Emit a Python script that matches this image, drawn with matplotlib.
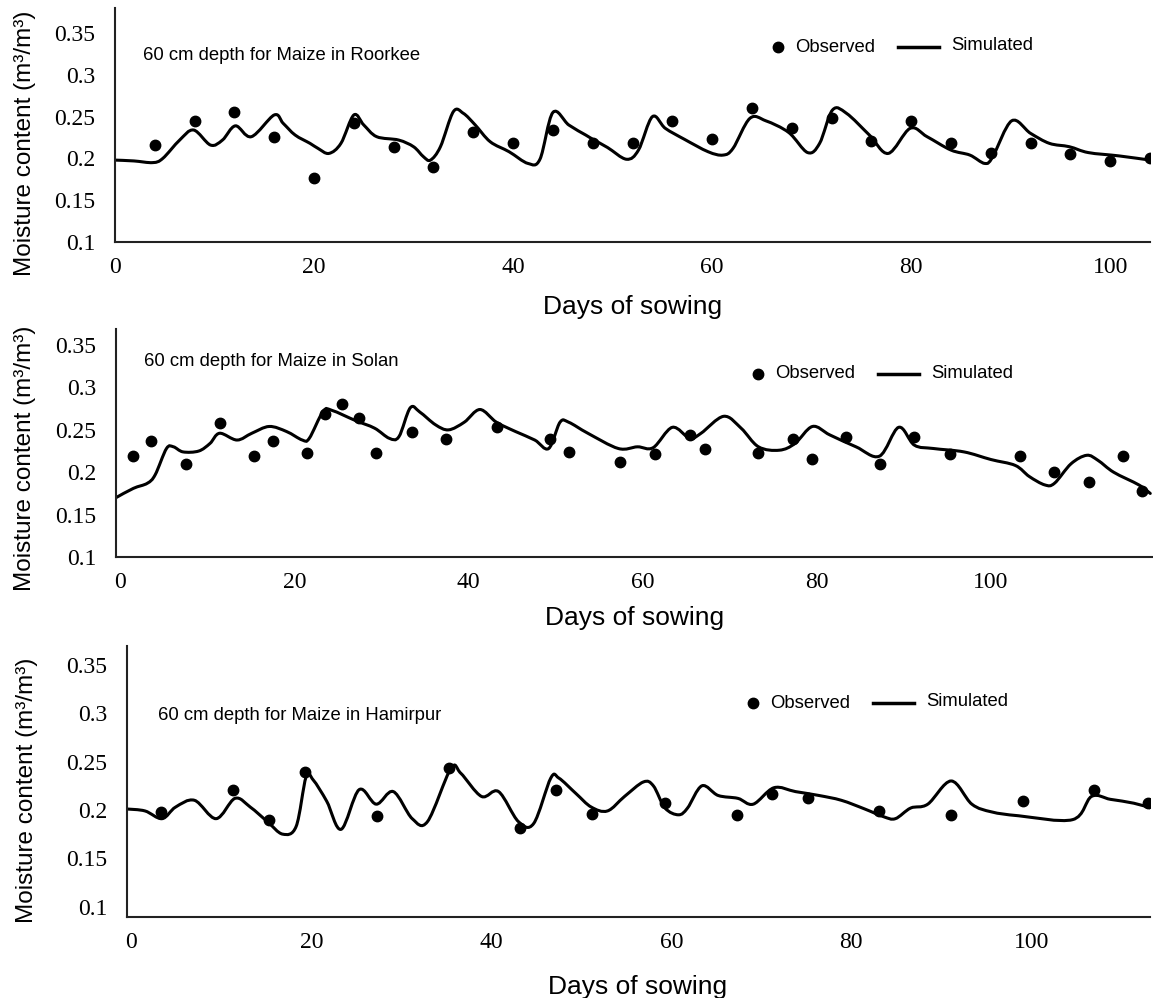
import matplotlib
matplotlib.use("Agg")
import numpy as np
import matplotlib.pyplot as plt
from matplotlib.lines import Line2D
from matplotlib.path import Path
from matplotlib.patches import PathPatch

# ---- Roorkee ----
roo_obs_day = [4, 8, 12, 16, 20, 24, 28, 32, 36, 40, 44, 48, 52, 56, 60, 64, 68, 72, 76, 80, 84, 88, 92, 96, 100, 104]
roo_obs = [0.216, 0.245, 0.256, 0.226, 0.177, 0.242, 0.214, 0.190, 0.232, 0.218, 0.234, 0.219, 0.219, 0.245, 0.223, 0.260,
           0.236, 0.248, 0.221, 0.245, 0.218, 0.207, 0.218, 0.205, 0.197, 0.201]
roo_sim_day = [0, 1.9, 3.8, 4.8, 6.5, 7.9, 9.6, 10.8, 12.1, 13.7, 16.0, 16.9, 18.1, 19.6, 20.4, 21.5, 22.7, 24.0, 25.0,
               26.3, 28.5, 30.0, 31.0, 31.7, 32.7, 34.0, 35.0, 36.2, 37.7, 39.6, 41.5, 42.7, 44.0, 45.6, 47.3, 48.0,
               49.5, 51.4, 52.6, 54.0, 55.3, 57.2, 59.6, 61.1, 62.1, 63.8, 65.4, 67.7, 69.6, 70.8, 72.1, 73.5, 75.8,
               77.7, 79.9, 81.6, 84.0, 85.9, 87.4, 88.2, 90.1, 92.0, 93.9, 95.9, 97.8, 100.9, 104]
roo_sim = [0.198, 0.197, 0.195, 0.200, 0.222, 0.234, 0.216, 0.222, 0.239, 0.226, 0.252, 0.242, 0.228, 0.218, 0.212,
           0.206, 0.218, 0.252, 0.240, 0.226, 0.222, 0.214, 0.202, 0.198, 0.214, 0.256, 0.254, 0.240, 0.220, 0.208,
           0.194, 0.199, 0.255, 0.240, 0.228, 0.223, 0.213, 0.199, 0.210, 0.250, 0.236, 0.223, 0.208, 0.204, 0.212,
           0.248, 0.245, 0.231, 0.207, 0.218, 0.258, 0.254, 0.228, 0.206, 0.236, 0.226, 0.210, 0.204, 0.194, 0.202,
           0.245, 0.230, 0.218, 0.214, 0.207, 0.203, 0.198]

# ---- Solan ----
sol_obs_day = [1.4, 3.5, 7.5, 11.4, 15.4, 17.5, 21.4, 23.5, 25.5, 27.4, 29.4, 33.5, 37.4, 43.3, 49.4, 51.5, 57.4, 61.4,
               65.4, 67.2, 73.3, 77.3, 79.4, 83.3, 87.3, 91.2, 95.3, 103.3, 107.3, 111.3, 115.2, 117.4]
sol_obs = [0.219, 0.237, 0.210, 0.258, 0.219, 0.237, 0.223, 0.269, 0.280, 0.264, 0.223, 0.248, 0.239, 0.253, 0.239,
           0.224, 0.212, 0.221, 0.244, 0.228, 0.223, 0.239, 0.216, 0.242, 0.210, 0.241, 0.221, 0.219, 0.200, 0.189,
           0.219, 0.178]
sol_sim_day = [-0.5, 1.5, 3.1, 4.0, 5.3, 6.1, 7.2, 9.0, 10.3, 11.4, 13.4, 15.1, 17.1, 19.1, 20.9, 21.7, 23.3, 24.3,
               27.0, 29.2, 30.9, 32.0, 33.3, 34.4, 36.2, 37.7, 39.5, 41.3, 43.2, 45.4, 47.6, 49.2, 50.5, 51.5, 53.7,
               57.2, 59.4, 61.2, 63.4, 65.4, 66.7, 69.3, 71.3, 73.3, 75.7, 77.5, 79.5, 81.5, 84.5, 87.2, 89.4, 91.2,
               93.4, 96.9, 100.0, 102.8, 104.4, 106.2, 107.3, 109.2, 111.0, 112.3, 114.1, 117.0, 118.3]
sol_sim = [0.170, 0.181, 0.187, 0.197, 0.228, 0.230, 0.224, 0.225, 0.234, 0.246, 0.238, 0.246, 0.254, 0.248, 0.238,
           0.240, 0.272, 0.273, 0.261, 0.252, 0.240, 0.242, 0.276, 0.271, 0.256, 0.250, 0.259, 0.274, 0.259, 0.248,
           0.238, 0.228, 0.259, 0.259, 0.246, 0.228, 0.230, 0.229, 0.253, 0.240, 0.246, 0.266, 0.252, 0.230, 0.226,
           0.234, 0.254, 0.244, 0.230, 0.219, 0.253, 0.232, 0.228, 0.224, 0.215, 0.208, 0.195, 0.185, 0.187, 0.210,
           0.220, 0.214, 0.200, 0.185, 0.175]

# ---- Hamirpur ----
ham_obs_day = [3.3, 11.3, 15.3, 19.3, 27.3, 35.3, 43.2, 47.2, 51.2, 59.3, 67.3, 71.2, 75.2, 83.1, 91.1, 99.1, 107, 113]
ham_obs = [0.198, 0.221, 0.190, 0.239, 0.194, 0.243, 0.181, 0.221, 0.196, 0.207, 0.195, 0.217, 0.212, 0.199, 0.195,
           0.209, 0.221, 0.207]
ham_sim_day = [-0.5, 1.5, 3.4, 4.9, 7.0, 9.4, 11.5, 13.2, 15.1, 16.8, 18.3, 19.4, 20.2, 21.7, 23.3, 25.3, 27.2, 29.1,
               31.2, 32.9, 35.5, 36.6, 38.9, 40.8, 43.0, 44.7, 46.6, 47.5, 49.4, 51.1, 52.9, 54.8, 56.9, 58.0, 59.3,
               60.8, 61.8, 63.4, 65.2, 67.4, 69.1, 71.4, 73.8, 76.4, 78.9, 81.5, 83.6, 84.9, 86.6, 88.5, 91.1, 93.4,
               95.6, 98.6, 104.6, 106.7, 108.8, 111.4, 113.3]
ham_sim = [0.201, 0.199, 0.191, 0.203, 0.210, 0.191, 0.212, 0.203, 0.188, 0.175, 0.183, 0.234, 0.231, 0.209, 0.180,
           0.221, 0.206, 0.219, 0.191, 0.188, 0.243, 0.238, 0.214, 0.219, 0.188, 0.186, 0.233, 0.233, 0.217, 0.203,
           0.199, 0.214, 0.229, 0.225, 0.202, 0.195, 0.202, 0.225, 0.215, 0.212, 0.206, 0.223, 0.219, 0.215, 0.210,
           0.201, 0.193, 0.191, 0.202, 0.206, 0.230, 0.206, 0.198, 0.194, 0.190, 0.214, 0.211, 0.207, 0.202]

titles = ["60 cm depth for Maize in Roorkee", "60 cm depth for Maize in Solan", "60 cm depth for Maize in Hamirpur"]
x_ticks = [0, 20, 40, 60, 80, 100]
y_ticks = [0.1, 0.15, 0.2, 0.25, 0.3, 0.35]
y_ticklabels = ["0.1", "0.15", "0.2", "0.25", "0.3", "0.35"]

W, H = 1153, 998
fig = plt.figure(figsize=(W / 100, H / 100), dpi=100)


def fx(px):
    return px / W


def fy(py):
    return 1 - py / H


def smooth_path(xs, ys):
    # Excel-style smoothed line: the same points joined by Catmull-Rom bezier segments
    pts = np.column_stack([xs, ys])
    verts = [pts[0]]
    codes = [Path.MOVETO]
    n = len(pts)
    for k in range(n - 1):
        p0 = pts[max(k - 1, 0)]
        p1 = pts[k]
        p2 = pts[k + 1]
        p3 = pts[min(k + 2, n - 1)]
        c1 = p1 + (p2 - p0) / 6.0
        c2 = p2 - (p3 - p1) / 6.0
        verts += [c1, c2, p2]
        codes += [Path.CURVE4] * 3
    return Path(verts, codes)


sans = "Liberation Sans"
serif = "Liberation Serif"
fs_text = 13.3

panels = [
    dict(rect=(115, 8, 1150, 242), xlim=(0, 104), ylim=(0.1, 0.380),
         obs=(roo_obs_day, roo_obs), sim=(roo_sim_day, roo_sim),
         title=(143, 55), leg=(778, 47), xlab=(633, 307), ylab=(25, 143)),
    dict(rect=(116, 329, 1152, 557), xlim=(-0.5, 118.5), ylim=(0.1, 0.369),
         obs=(sol_obs_day, sol_obs), sim=(sol_sim_day, sol_sim),
         title=(144, 362), leg=(758, 374), xlab=(635, 618), ylab=(25, 458)),
    dict(rect=(127, 646, 1150, 917), xlim=(-0.5, 113.2), ylim=(0.0893, 0.3696),
         obs=(ham_obs_day, ham_obs), sim=(ham_sim_day, ham_sim),
         title=(158, 715), leg=(753, 703), xlab=(638, 987), ylab=(27, 790)),
]

for i, p in enumerate(panels):
    l, t, r, b = p["rect"]
    ax = fig.add_axes([fx(l), fy(b), fx(r - l), (b - t) / H])
    ax.add_patch(PathPatch(smooth_path(*p["sim"]), fill=False, edgecolor="black", lw=2.2,
                           capstyle="round", joinstyle="round", clip_on=True))
    ax.plot(p["obs"][0], p["obs"][1], "o", color="black", ms=7.5, ls="none")
    ax.set_xlim(*p["xlim"])
    ax.set_ylim(*p["ylim"])
    ax.set_xticks(x_ticks)
    ax.set_yticks(y_ticks)
    ax.set_yticklabels(y_ticklabels)
    for s in ["top", "right"]:
        ax.spines[s].set_visible(False)
    for s in ["left", "bottom"]:
        ax.spines[s].set_linewidth(1.5)
        ax.spines[s].set_color("#222222")
    ax.tick_params(length=0, labelsize=17)
    ax.tick_params(axis="x", pad=11)
    ax.tick_params(axis="y", pad=14)
    for lab in ax.get_xticklabels() + ax.get_yticklabels():
        lab.set_fontfamily(serif)

    fig.text(fx(p["title"][0]), fy(p["title"][1]), titles[i], fontsize=fs_text, family=sans,
             ha="left", va="center")

    # legend drawn by hand: dot + Observed, line + Simulated
    lx, ly = p["leg"]
    fig.add_artist(Line2D([fx(lx)], [fy(ly)], marker="o", color="black", ms=7.5, ls="none"))
    fig.text(fx(lx + 17), fy(ly), "Observed", fontsize=fs_text, family=sans, ha="left", va="center")
    fig.add_artist(Line2D([fx(lx + 120), fx(lx + 161)], [fy(ly), fy(ly)], color="black", lw=2.5))
    fig.text(fx(lx + 173), fy(ly - 1), "Simulated", fontsize=fs_text, family=sans, ha="left", va="center")

    fig.text(fx(p["xlab"][0]), fy(p["xlab"][1]), "Days of sowing", fontsize=19, family=sans,
             ha="center", va="center")
    fig.text(fx(p["ylab"][0]), fy(p["ylab"][1]), "Moisture content (m³/m³)", fontsize=17.5, family=sans,
             ha="center", va="center", rotation=90)

fig.savefig("out.png", dpi=100)
